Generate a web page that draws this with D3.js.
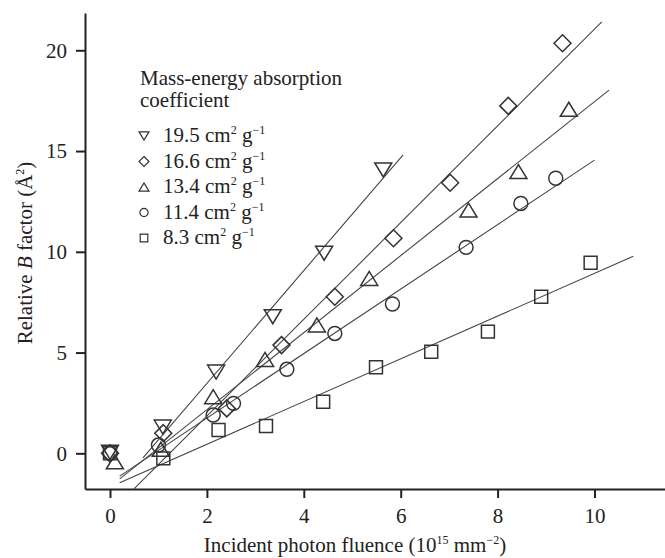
<!DOCTYPE html>
<html>
<head>
<meta charset="utf-8">
<script src="https://cdn.jsdelivr.net/npm/d3@7"></script>
<style>
  body { margin: 0; background: #fff; }
  text { font-family: "Liberation Serif", "Times New Roman", serif; fill: #222; }
</style>
</head>
<body>
<div id="container"></div>
<script>
// series: mass-energy absorption coefficient (cm2 g-1)
var coefficients = ['19.5', '16.6', '13.4', '11.4', '8.3'];
var shapes = ['down', 'diamond', 'up', 'circle', 'square'];

// fluence (10^15 mm^-2) and relative B factor (A^2)
var fluence195 = [0, 1.09, 2.19, 3.36, 4.42, 5.64];
var bfactor195 = [0.05, 1.3, 4.03, 6.78, 9.93, 14.06];
var fluence166 = [0, 1.1, 2.41, 3.54, 4.64, 5.85, 7.02, 8.22, 9.34];
var bfactor166 = [0, 1.0, 2.23, 5.37, 7.77, 10.67, 13.43, 17.24, 20.35];
var fluence134 = [0.1, 1.05, 2.13, 3.2, 4.27, 5.35, 7.4, 8.43, 9.47];
var bfactor134 = [-0.42, 0.2, 2.81, 4.66, 6.37, 8.68, 12.07, 13.98, 17.07];
var fluence114 = [0, 1.0, 2.13, 2.55, 3.65, 4.64, 5.83, 7.35, 8.48, 9.2];
var bfactor114 = [0, 0.41, 1.9, 2.48, 4.17, 5.95, 7.41, 10.22, 12.4, 13.65];
var fluence83 = [0, 1.1, 2.24, 3.22, 4.4, 5.49, 6.63, 7.8, 8.9, 9.92];
var bfactor83 = [0, -0.25, 1.16, 1.36, 2.56, 4.27, 5.04, 6.04, 7.77, 9.46];

// fitted lines: slope, intercept, x range
var fitSlope = [2.80, 2.40, 1.91, 1.60, 1.06];
var fitIntercept = [-2.13, -2.95, -1.65, -1.45, -1.67];
var fitFrom = [0.68, 0.48, 0.2, 0.2, 0.2];
var fitTo = [6.05, 10.15, 10.3, 10.0, 10.8];

var xTicks = [0, 2, 4, 6, 8, 10];
var yTicks = [0, 5, 10, 15, 20];

var fluences = [fluence195, fluence166, fluence134, fluence114, fluence83];
var bfactors = [bfactor195, bfactor166, bfactor134, bfactor114, bfactor83];

var width = 665,
    height = 558;

var svg = d3.select('#container')
    .append('svg')
    .attr('width', width)
    .attr('height', height);

var x = d3.scaleLinear().domain([-0.516, 11.455]).range([85, 665]);
var y = d3.scaleLinear().domain([-1.77, 21.85]).range([489, 13]);

function markerPath(shape, s) {
    // s = half width
    var p = d3.path();
    if (shape == 'down') {
        var h = s * 1.65;
        p.moveTo(-s, -h / 2); p.lineTo(s, -h / 2); p.lineTo(0, h / 2); p.closePath();
    } else if (shape == 'up') {
        var h2 = s * 1.65;
        p.moveTo(-s, h2 / 2); p.lineTo(s, h2 / 2); p.lineTo(0, -h2 / 2); p.closePath();
    } else if (shape == 'diamond') {
        p.moveTo(0, -s); p.lineTo(s, 0); p.lineTo(0, s); p.lineTo(-s, 0); p.closePath();
    } else if (shape == 'circle') {
        p.arc(0, 0, s * 0.82, 0, 2 * Math.PI);
    } else {
        var q = s * 0.76;
        p.rect(-q, -q, 2 * q, 2 * q);
    }
    return p.toString();
}

// axes
var xAxis = d3.axisBottom(x).tickValues(xTicks).tickSize(9).tickSizeOuter(0).tickPadding(10);
var yAxis = d3.axisLeft(y).tickValues(yTicks).tickSize(9).tickSizeOuter(0).tickPadding(9);

var gx = svg.append('g').attr('transform', 'translate(0,489)').call(xAxis);
var gy = svg.append('g').attr('transform', 'translate(85,0)').call(yAxis);
[gx, gy].forEach(function(g) {
    g.selectAll('path, line').attr('stroke', '#222').attr('stroke-width', 2);
    g.selectAll('text').style('font-size', '21px').attr('fill', '#222');
});

// fitted lines
var fits = coefficients.map(function(c, i) {
    return [[fitFrom[i], fitIntercept[i] + fitSlope[i] * fitFrom[i]],
            [fitTo[i], fitIntercept[i] + fitSlope[i] * fitTo[i]]];
});
svg.append('g').selectAll('line')
    .data(fits)
    .enter()
    .append('line')
    .attr('x1', function(d) { return x(d[0][0]); })
    .attr('y1', function(d) { return y(d[0][1]); })
    .attr('x2', function(d) { return x(d[1][0]); })
    .attr('y2', function(d) { return y(d[1][1]); })
    .attr('stroke', '#444')
    .attr('stroke-width', 1.1);

// markers
coefficients.forEach(function(c, i) {
    var pts = fluences[i].map(function(v, j) { return [v, bfactors[i][j]]; });
    svg.append('g').selectAll('path')
        .data(pts)
        .enter()
        .append('path')
        .attr('d', markerPath(shapes[i], 8.5))
        .attr('transform', function(d) { return 'translate(' + x(d[0]) + ',' + y(d[1]) + ')'; })
        .attr('fill', 'none')
        .attr('stroke', '#333')
        .attr('stroke-width', 1.5);
});

// legend
var legend = svg.append('g');
legend.append('text').attr('x', 140).attr('y', 85).style('font-size', '21px').text('Mass-energy absorption');
legend.append('text').attr('x', 140).attr('y', 107).style('font-size', '21px').text('coefficient');
coefficients.forEach(function(c, i) {
    var by = 142 + i * 25.5;
    legend.append('path')
        .attr('d', markerPath(shapes[i], 5))
        .attr('transform', 'translate(144,' + (by - 6) + ')')
        .attr('fill', 'none')
        .attr('stroke', '#333')
        .attr('stroke-width', 1.2);
    var t = legend.append('text').attr('x', 163).attr('y', by).style('font-size', '21px');
    t.append('tspan').text(c + ' cm');
    t.append('tspan').attr('dy', -8).style('font-size', '12px').text('2');
    t.append('tspan').attr('dy', 8).text(' g');
    t.append('tspan').attr('dy', -8).style('font-size', '12px').text('\u22121');
});

// axis titles
var xt = svg.append('text')
    .attr('x', 355).attr('y', 552)
    .attr('text-anchor', 'middle')
    .style('font-size', '21px');
xt.append('tspan').text('Incident photon fluence (10');
xt.append('tspan').attr('dy', -8).style('font-size', '12px').text('15');
xt.append('tspan').attr('dy', 8).text(' mm');
xt.append('tspan').attr('dy', -8).style('font-size', '12px').text('\u22122');
xt.append('tspan').attr('dy', 8).text(')');

var yt = svg.append('text')
    .attr('transform', 'translate(32,253) rotate(-90)')
    .attr('text-anchor', 'middle')
    .style('font-size', '21px');
yt.append('tspan').text('Relative ');
yt.append('tspan').style('font-style', 'italic').text('B');
yt.append('tspan').text(' factor (\u00c5');
yt.append('tspan').attr('dy', -8).style('font-size', '12px').text('2');
yt.append('tspan').attr('dy', 8).text(')');
</script>
</body>
</html>
